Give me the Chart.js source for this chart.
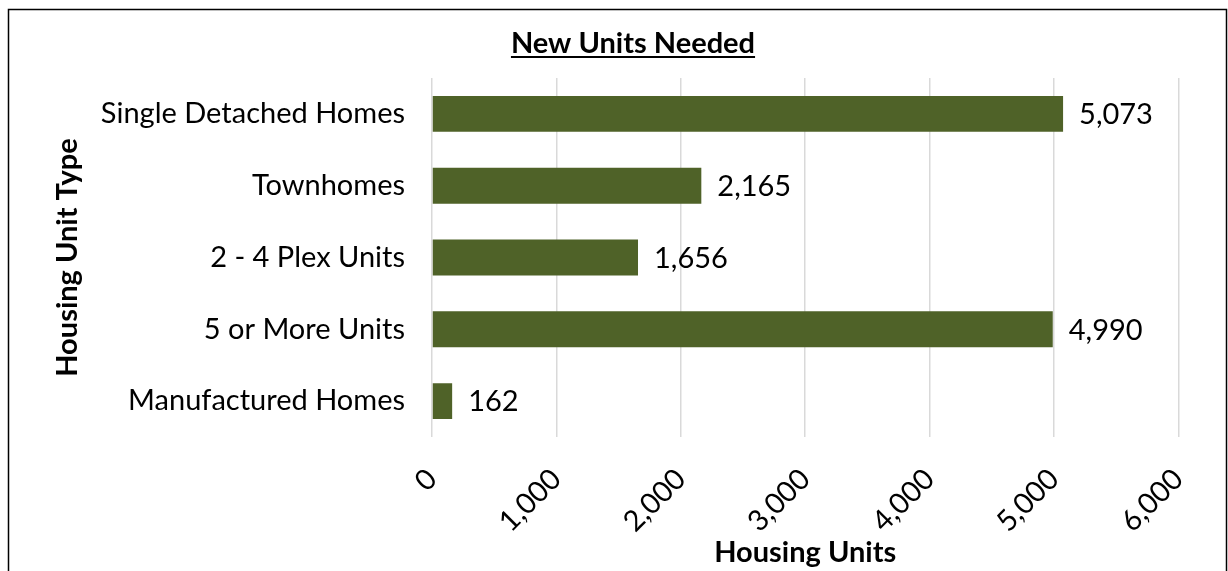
<!DOCTYPE html>
<html>
<head>
<meta charset="utf-8">
<title>New Units Needed</title>
<script src="https://cdn.jsdelivr.net/npm/chart.js@4.4.1/dist/chart.umd.min.js"></script>
<style>
  html, body { margin: 0; padding: 0; background: #fff; }
  #wrap { width: 1228px; height: 571px; }
</style>
</head>
<body>
<div id="wrap"><canvas id="chart" width="1228" height="571"></canvas></div>
<script>
const categories = ['Single Detached Homes', 'Townhomes', '2 - 4 Plex Units', '5 or More Units', 'Manufactured Homes'];
const unitsNeeded = [5073, 2165, 1656, 4990, 162];
const xTicks = [0, 1000, 2000, 3000, 4000, 5000, 6000];

const chartTitle = 'New Units Needed';
const xTitle = 'Housing Units';
const yTitle = 'Housing Unit Type';

const FONT = 'Lato, Carlito, Calibri, sans-serif';
const SIZE = 29;
const barColor = '#4f6228';

// outer frame + underlined title
const framePlugin = {
  id: 'frame',
  beforeDraw(chart) {
    const ctx = chart.ctx;
    ctx.save();
    ctx.fillStyle = '#fff';
    ctx.fillRect(0, 0, chart.width, chart.height);
    ctx.strokeStyle = '#000';
    ctx.lineWidth = 1.5;
    ctx.strokeRect(8.5, 9.5, 1218, 700);
    ctx.restore();
  },
  afterDraw(chart) {
    const ctx = chart.ctx;
    ctx.save();
    ctx.font = 'bold ' + SIZE + 'px ' + FONT;
    ctx.fillStyle = '#000';
    ctx.textAlign = 'center';
    ctx.textBaseline = 'alphabetic';
    const cx = 633, by = 53;
    ctx.fillText(chartTitle, cx, by);
    const w = ctx.measureText(chartTitle).width;
    ctx.fillRect(cx - w / 2, by + 3, w, 2);
    ctx.restore();
  }
};

// value labels to the right of each bar
const valueLabels = {
  id: 'valueLabels',
  afterDatasetsDraw(chart) {
    const ctx = chart.ctx;
    const meta = chart.getDatasetMeta(0);
    ctx.save();
    ctx.font = SIZE + 'px ' + FONT;
    ctx.fillStyle = '#000';
    ctx.textAlign = 'left';
    ctx.textBaseline = 'middle';
    meta.data.forEach((bar, i) => {
      ctx.fillText(unitsNeeded[i].toLocaleString('en-US'), bar.x + 16, bar.y + 1);
    });
    ctx.restore();
  }
};

new Chart(document.getElementById('chart'), {
  type: 'bar',
  data: {
    labels: categories,
    datasets: [{
      data: unitsNeeded,
      backgroundColor: barColor,
      borderWidth: 0,
      barPercentage: 0.5,
      categoryPercentage: 1
    }]
  },
  options: {
    indexAxis: 'y',
    responsive: false,
    animation: false,
    devicePixelRatio: 1,
    layout: { padding: { left: 0, top: 78, right: 48, bottom: 0 } },
    plugins: {
      legend: { display: false },
      title: { display: false },
      tooltip: { enabled: false }
    },
    scales: {
      x: {
        min: 0,
        max: 6000,
        afterBuildTicks(scale) { scale.ticks = xTicks.map(v => ({ value: v })); },
        afterFit(scale) { scale.height = 134; },
        grid: { color: '#d9d9d9', lineWidth: 1.5, drawTicks: false },
        border: { display: false },
        ticks: {
          color: '#000',
          font: { family: FONT, size: SIZE },
          maxRotation: 45,
          minRotation: 45,
          padding: 25,
          callback: v => v.toLocaleString('en-US')
        },
        title: {
          display: true,
          text: xTitle,
          color: '#000',
          font: { family: FONT, size: SIZE, weight: 'bold' },
          padding: { top: 0, bottom: 1 }
        }
      },
      y: {
        afterFit(scale) { scale.width = 432; },
        grid: { display: false, drawTicks: false },
        border: { display: false },
        ticks: {
          color: '#000',
          font: { family: FONT, size: SIZE },
          padding: 27
        },
        title: {
          display: true,
          text: yTitle,
          color: '#000',
          font: { family: FONT, size: SIZE, weight: 'bold' },
          padding: { top: 50, bottom: 0 }
        }
      }
    }
  },
  plugins: [framePlugin, valueLabels]
});
</script>
</body>
</html>
